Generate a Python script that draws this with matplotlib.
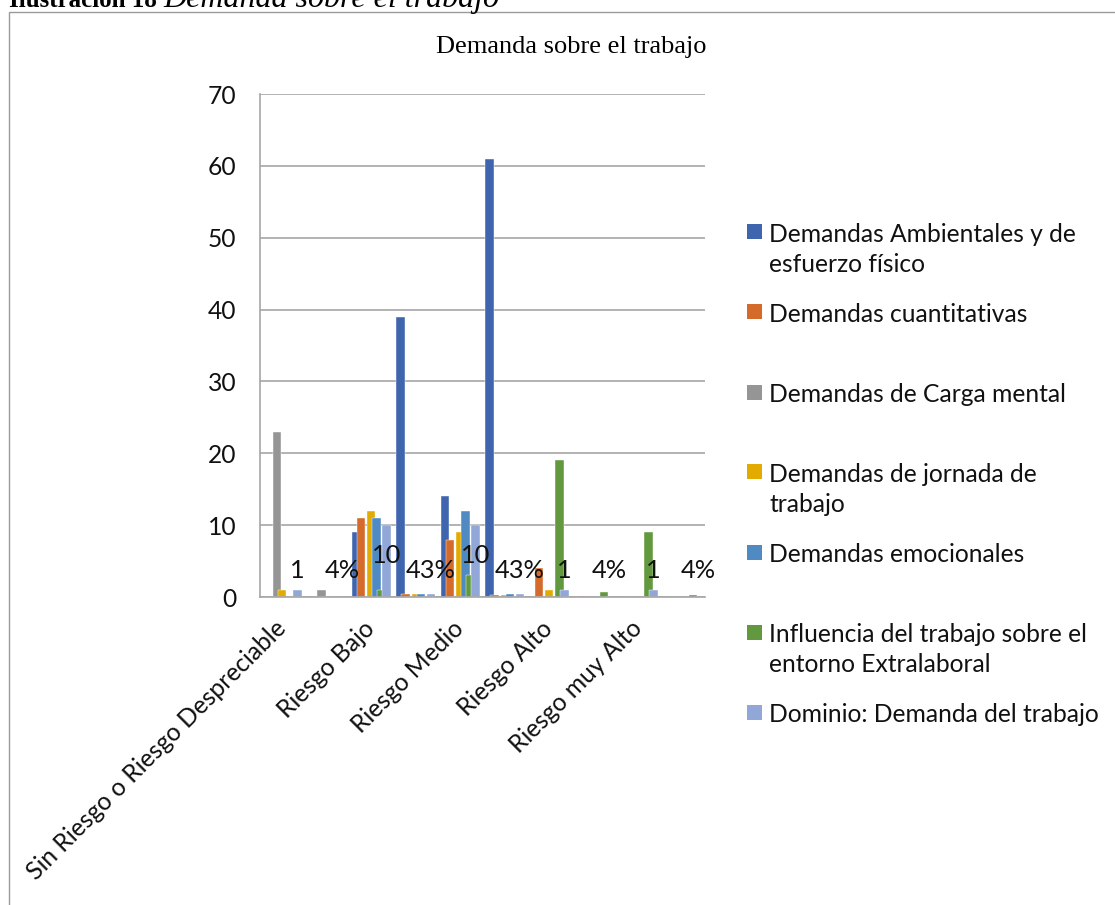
import matplotlib
matplotlib.use("Agg")
import matplotlib.pyplot as plt
import numpy as np
from matplotlib.patches import Rectangle

# ---------------- data ----------------
categories = ["Sin Riesgo o Riesgo Despreciable", "", "Riesgo Bajo", "", "Riesgo Medio", "",
              "Riesgo Alto", "", "Riesgo muy Alto", ""]
series_names = ["Demandas Ambientales y de\nesfuerzo físico",
                "Demandas cuantitativas",
                "Demandas de Carga mental",
                "Demandas de jornada de\ntrabajo",
                "Demandas emocionales",
                "Influencia del trabajo sobre el\nentorno Extralaboral",
                "Dominio: Demanda del trabajo"]
colors = ["#3E65AD", "#D46B2A", "#959595", "#E3AA00", "#4F8BC2", "#62993E", "#91A7D8"]

ambientales   = [0, 0, 9, 39, 14, 61, 0, 0, 0, 0]
cuantitativas = [0, 0, 11, 0.4, 8, 0.3, 4, 0.14, 0, 0]
carga_mental  = [23, 1, 0, 0, 0, 0, 0, 0, 0, 0]
jornada       = [1, 0, 12, 0.4, 9, 0.3, 1, 0, 0, 0]
emocionales   = [0, 0, 11, 0.4, 12, 0.45, 0, 0, 0, 0]
influencia    = [0, 0, 1, 0, 3, 0, 19, 0.75, 9, 0.33]
dominio       = [1, 0.04, 10, 0.43, 10, 0.43, 1, 0.04, 1, 0.04]
dominio_labels = ["1", "4%", "10", "43%", "10", "43%", "1", "4%", "1", "4%"]
y_ticks = [0, 10, 20, 30, 40, 50, 60, 70]

series = [ambientales, cuantitativas, carga_mental, jornada, emocionales, influencia, dominio]

# ---------------- figure ----------------
plt.rcParams['font.family'] = ['Lato', 'DejaVu Sans']
W, H = 1115, 905
FS = 17.7
TXT = "#111111"
fig = plt.figure(figsize=(W / 100, H / 100), dpi=100)
fig.patch.set_facecolor("white")

def fx(px):
    return px / W

def fy(py):
    return 1 - py / H

ax = fig.add_axes([fx(260), fy(597), (705 - 260) / W, (597 - 94) / H])
x = np.arange(len(categories))
step = 0.114
bw = 0.19
for i, (vals, c) in enumerate(zip(series, colors)):
    ax.bar(x + (i - 3) * step, vals, width=bw, color=c, edgecolor="white",
           linewidth=0.3, zorder=2 + i)

# data labels of the last series
for xi, v, lab in zip(x, dominio, dominio_labels):
    ax.text(xi + 3 * step, max(v - 4.2, 3.75), lab, ha="center", va="center",
            fontsize=18.3, color=TXT, zorder=20)

ax.set_xlim(-0.5, len(categories) - 0.5)
ax.set_ylim(0, 70)
ax.set_yticks(y_ticks)
ax.set_yticklabels([str(t) for t in y_ticks], fontsize=FS, color=TXT)
ax.set_xticks(x)
ax.set_xticklabels(categories, rotation=45, ha="right", va="center",
                   rotation_mode="anchor", fontsize=FS, color=TXT)
ax.tick_params(axis="y", length=0, pad=17)
ax.tick_params(axis="x", length=0, pad=20)
ax.yaxis.grid(True, color="#a6a6a6", linewidth=1.2)
ax.set_axisbelow(True)
for s in ["top", "right"]:
    ax.spines[s].set_visible(False)
for s in ["left", "bottom"]:
    ax.spines[s].set_color("#a6a6a6")
    ax.spines[s].set_linewidth(1.2)
ax.spines["bottom"].set_zorder(30)

# chart title
fig.text(fx(571), fy(47), "Demanda sobre el trabajo", family="Liberation Serif",
         fontsize=19, ha="center", va="center", color="black")

# legend (manual, Excel-like layout)
for i, (name, c) in enumerate(zip(series_names, colors)):
    yc = 232 + 80 * i
    fig.add_artist(Rectangle((fx(747), fy(yc + 7.5)), 15 / W, 15 / H,
                             transform=fig.transFigure, facecolor=c, edgecolor="none"))
    for j, line in enumerate(name.split("\n")):
        fig.text(fx(769), fy(yc + 31 * j), line, fontsize=FS, va="center_baseline",
                 ha="left", color=TXT)

# chart frame
fig.add_artist(Rectangle((fx(9), -0.1), 1.2, fy(12) + 0.1, transform=fig.transFigure,
                         fill=False, edgecolor="#9a9a9a", linewidth=1.0))

# caption cut at the top
fig.text(fx(9), fy(7), "Ilustración 18", family="Liberation Serif", weight="bold",
         fontsize=18, va="baseline", ha="left", color="black")
fig.text(fx(163), fy(7), "Demanda sobre el trabajo", family="Liberation Serif",
         style="italic", fontsize=23, va="baseline", ha="left", color="black")

fig.savefig("out.png", dpi=100, facecolor="white")
